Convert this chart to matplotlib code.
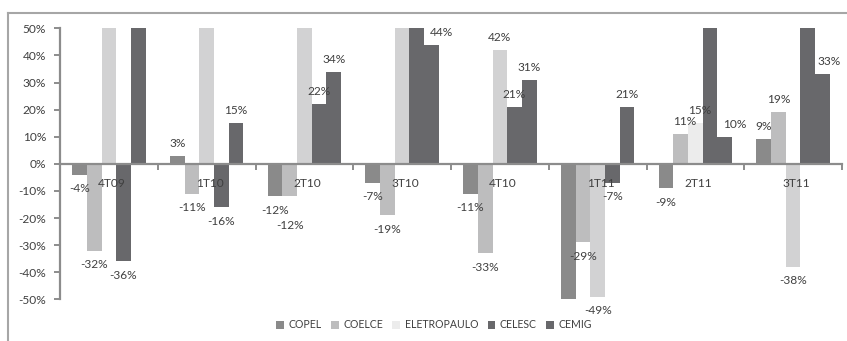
import matplotlib
matplotlib.use('Agg')
import matplotlib.pyplot as plt
from matplotlib.lines import Line2D
from matplotlib.patches import Patch

# --- datos (valores fuera de escala > 50% se recortan en el grafico) ---
trimestres = ['4T09', '1T10', '2T10', '3T10', '4T10', '1T11', '2T11', '3T11']
empresas = ['COPEL', 'COELCE', 'ELETROPAULO', 'CELESC', 'CEMIG']

copel = [-4, 3, -12, -7, -11, -55, -9, 9]
coelce = [-32, -11, -12, -19, -33, -29, 11, 19]
eletropaulo = [55, 55, 55, 55, 42, -49, 15, -38]
celesc = [-36, -16, 22, 55, 21, -7, 55, 55]
cemig = [55, 15, 34, 44, 31, 21, 10, 33]

series = [copel, coelce, eletropaulo, celesc, cemig]
colores = ['#8a8a8a', '#bdbdbe', '#d2d2d3', '#68686b', '#68686b']

plt.rcParams['font.family'] = ['Lato', 'DejaVu Sans']
GRIS = '#8c8c8c'
TEXTO = '#404040'
FS = 8.6

# desplazamientos manuales de algunas etiquetas (serie, trimestre): (dx, dy) en puntos
ajustes = {(1, 2): (0, -21), (4, 3): (7, 9), (4, 7): (5, 9), (4, 6): (7, 9),
           (1, 6): (3, 9), (2, 6): (3, 9)}

W, H = 847, 341
fig = plt.figure(figsize=(W / 100, H / 100), dpi=100)
ax = fig.add_axes([60 / W, 1 - 299.3 / H, 782 / W, 271 / H])

ancho = 0.15
for k, (vals, col) in enumerate(zip(series, colores)):
    xs = [i + (k - 2) * ancho for i in range(len(trimestres))]
    cols = [col] * len(vals)
    if k == 2:
        cols[6] = '#ececec'  # la barra de 2T11 sale casi blanca
    ax.bar(xs, vals, width=ancho, color=cols, align='center', zorder=1)
    for i, (x, v) in enumerate(zip(xs, vals)):
        if abs(v) >= 50:
            continue
        off = ajustes.get((k, i), (0, 9 if v > 0 else -10))
        ax.annotate(f'{v}%', (x, v), xytext=off, textcoords='offset points',
                    ha='center', va='center', fontsize=FS, color=TEXTO)

ax.set_xlim(-0.5, len(trimestres) - 0.5)
ax.set_ylim(-50, 50)
ax.set_yticks(range(-50, 51, 10))
ax.set_yticklabels([f'{t}%' for t in range(-50, 51, 10)], fontsize=FS, color=TEXTO)
ax.set_xticks([i - 0.5 for i in range(len(trimestres) + 1)])
ax.set_xticklabels([])

for s in ['top', 'right']:
    ax.spines[s].set_visible(False)
ax.spines['bottom'].set_position(('data', 0))
for s in ['left', 'bottom']:
    ax.spines[s].set_color(GRIS)
    ax.spines[s].set_linewidth(1.6)
    ax.spines[s].set_zorder(3)
ax.tick_params(axis='y', direction='out', length=4, width=1.4, color=GRIS, pad=6)
ax.tick_params(axis='x', direction='out', length=4, width=1.4, color=GRIS)

for i, t in enumerate(trimestres):
    ax.text(i + 0.03, -7.4, t, ha='center', va='center', fontsize=FS, color=TEXTO)

# leyenda
handles = [Patch(facecolor=c, edgecolor='none') for c in colores]
handles[2] = Patch(facecolor='#ececec', edgecolor='none')
fig.legend(handles, empresas, loc='center', bbox_to_anchor=(434 / W, 1 - 325 / H),
           ncol=5, frameon=False, fontsize=7.6, handlelength=0.75, handleheight=0.75,
           handletextpad=0.4, columnspacing=0.9, labelcolor=TEXTO)

# marco del grafico
fig.add_artist(Line2D([8 / W, 1], [1 - 13 / H, 1 - 13 / H], color='#a6a6a6', lw=1.5))
fig.add_artist(Line2D([8 / W, 8 / W], [1 - 13 / H, 0], color='#a6a6a6', lw=1.5))

plt.savefig('out.png', dpi=100)
